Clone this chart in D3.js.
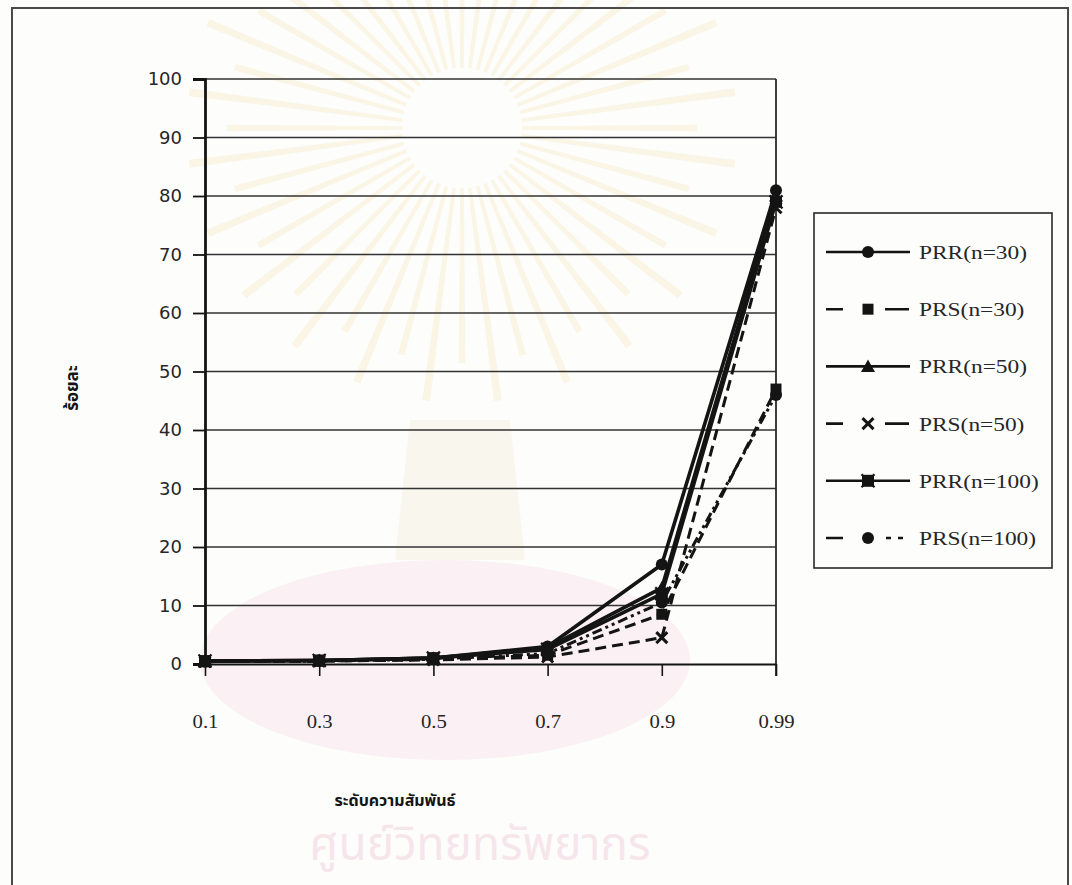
<!DOCTYPE html>
<html>
<head>
<meta charset="utf-8">
<script src="https://cdn.jsdelivr.net/npm/d3@7"></script>
<style>
  html, body { margin: 0; padding: 0; background: #fdfdfc; }
  svg { display: block; }
</style>
</head>
<body>
<svg id="chart" width="1072" height="885"></svg>
<script>
// Correlation levels on the x axis
const categories = ["0.1", "0.3", "0.5", "0.7", "0.9", "0.99"];
const yTicks = [0, 10, 20, 30, 40, 50, 60, 70, 80, 90, 100];

// Percentages per method and sample size
const prr30  = [0.5, 0.6, 1.0, 3.0, 17.0, 81.0];
const prs30  = [0.4, 0.5, 0.8, 1.5, 8.5, 47.0];
const prr50  = [0.5, 0.6, 1.0, 2.8, 13.0, 80.0];
const prs50  = [0.4, 0.5, 0.7, 1.2, 4.5, 78.0];
const prr100 = [0.5, 0.6, 1.0, 2.5, 12.0, 79.0];
const prs100 = [0.4, 0.5, 0.8, 1.8, 10.5, 46.0];

const seriesNames = ["PRR(n=30)", "PRS(n=30)", "PRR(n=50)", "PRS(n=50)", "PRR(n=100)", "PRS(n=100)"];
const seriesValues = [prr30, prs30, prr50, prs50, prr100, prs100];

const yTitle = "ร้อยละ";
const xTitle = "ระดับความสัมพันธ์";
const mark = "ศูนย์วิทยทรัพยากร";

const styles = [
  { dash: null,              legendDash: null,          symbol: "circle" },
  { dash: "11,6",            legendDash: "17,42,24",    symbol: "square" },
  { dash: null,              legendDash: null,          symbol: "triangle" },
  { dash: "11,6",            legendDash: "17,42,24",    symbol: "cross" },
  { dash: null,              legendDash: null,          symbol: "starsq" },
  { dash: "10,4,3,4,3,4",    legendDash: "17,43,5,7,5", symbol: "circle" }
];

const svg = d3.select("#chart");
const ink = "#141414";
const thaiFont = "'Noto Sans Thai', 'Noto Serif Thai', Loma, Garuda, 'DejaVu Sans', sans-serif";
const serif = "'Liberation Serif', 'Times New Roman', serif";

// ---- faint background seal ----
const wm = svg.append("g").attr("class", "watermark");
const cx = 462, cy = 128;
d3.range(0, 360, 7.5).forEach(a => {
  const r = a * Math.PI / 180;
  const r0 = 60, r1 = 235 + (Math.round(a / 7.5) % 2) * 40;
  wm.append("path")
    .attr("d", `M${cx + r0 * Math.cos(r - 0.03)},${cy + r0 * Math.sin(r - 0.03)}
                L${cx + r1 * Math.cos(r - 0.014)},${cy + r1 * Math.sin(r - 0.014)}
                L${cx + r1 * Math.cos(r + 0.014)},${cy + r1 * Math.sin(r + 0.014)}
                L${cx + r0 * Math.cos(r + 0.03)},${cy + r0 * Math.sin(r + 0.03)}Z`)
    .attr("fill", "#f8f1da").attr("opacity", 0.7);
});
wm.append("circle").attr("cx", cx).attr("cy", cy).attr("r", 60).attr("fill", "#fdfdfc");
wm.append("path")
  .attr("d", "M410,420 L510,420 L525,560 L395,560 Z")
  .attr("fill", "#f7f2e4").attr("opacity", 0.6);
wm.append("ellipse").attr("cx", 445).attr("cy", 660).attr("rx", 245).attr("ry", 100)
  .attr("fill", "#fbf0f3");
wm.append("text")
  .attr("x", 480).attr("y", 860)
  .attr("text-anchor", "middle")
  .attr("font-family", thaiFont)
  .attr("font-size", 46)
  .attr("fill", "#f6e6ec")
  .text(mark);

// ---- outer frame ----
svg.append("rect")
  .attr("x", 12).attr("y", 8).attr("width", 1056).attr("height", 900)
  .attr("fill", "none").attr("stroke", "#4a4a4a").attr("stroke-width", 2);

// ---- scales ----
const plotLeft = 205, plotRight = 776, plotTop = 79, plotBottom = 664;
const x = d3.scalePoint().domain(categories).range([plotLeft, plotRight]);
const y = d3.scaleLinear().domain([0, 100]).range([plotBottom, plotTop]);

// grid lines
svg.append("g")
  .selectAll("line").data(yTicks.filter(d => d > 0)).join("line")
  .attr("x1", plotLeft).attr("x2", plotRight)
  .attr("y1", d => y(d)).attr("y2", d => y(d))
  .attr("stroke", "#333").attr("stroke-width", 1.7);

// right border of plot area
svg.append("line")
  .attr("x1", plotRight).attr("x2", plotRight).attr("y1", plotTop).attr("y2", plotBottom + 12)
  .attr("stroke", "#2a2a2a").attr("stroke-width", 1.8);

// y axis
const yAxis = svg.append("g")
  .attr("transform", `translate(${plotLeft},0)`)
  .call(d3.axisLeft(y).tickValues(yTicks).tickSize(12).tickPadding(11).tickFormat(d3.format("d")));
yAxis.select(".domain").attr("stroke", ink).attr("stroke-width", 2.8);
yAxis.selectAll(".tick line").attr("stroke", ink).attr("stroke-width", 1.8);
yAxis.selectAll("text")
  .attr("font-family", "Verdana, 'DejaVu Sans', sans-serif")
  .attr("font-size", 18).attr("fill", "#262626");

// x axis
const xAxis = svg.append("g")
  .attr("transform", `translate(0,${plotBottom})`)
  .call(d3.axisBottom(x).tickSize(12).tickPadding(46).tickSizeOuter(0));
xAxis.select(".domain").attr("stroke", ink).attr("stroke-width", 2.2);
xAxis.selectAll(".tick line").attr("stroke", ink).attr("stroke-width", 1.6);
xAxis.selectAll("text")
  .attr("font-family", serif)
  .attr("font-size", 18).attr("fill", "#262626")
  .attr("transform", "scale(1.15,1)")
  .attr("dy", "0.35em");

// ---- markers ----
function drawMarker(g, kind, px, py, s) {
  s = s || 1;
  if (kind === "circle") {
    g.append("circle").attr("cx", px).attr("cy", py).attr("r", 6 * s).attr("fill", ink);
  } else if (kind === "square") {
    g.append("rect").attr("x", px - 5.5 * s).attr("y", py - 5.5 * s)
      .attr("width", 11 * s).attr("height", 11 * s).attr("fill", ink);
  } else if (kind === "triangle") {
    g.append("path")
      .attr("d", `M${px},${py - 7 * s} L${px + 7 * s},${py + 5.5 * s} L${px - 7 * s},${py + 5.5 * s}Z`)
      .attr("fill", ink);
  } else if (kind === "cross") {
    const d = 5.5 * s;
    g.append("path")
      .attr("d", `M${px - d},${py - d} L${px + d},${py + d} M${px + d},${py - d} L${px - d},${py + d}`)
      .attr("stroke", ink).attr("stroke-width", 3).attr("fill", "none");
  } else if (kind === "starsq") {
    g.append("rect").attr("x", px - 6 * s).attr("y", py - 6 * s)
      .attr("width", 12 * s).attr("height", 12 * s).attr("fill", ink);
    g.append("path")
      .attr("d", `M${px - 6.5 * s},${py - 6.5 * s} L${px + 6.5 * s},${py + 6.5 * s} M${px + 6.5 * s},${py - 6.5 * s} L${px - 6.5 * s},${py + 6.5 * s}`)
      .attr("stroke", ink).attr("stroke-width", 2.2);
  }
}

// ---- series lines ----
const line = d3.line()
  .x((d, i) => x(categories[i]))
  .y(d => y(d));

const plot = svg.append("g");
seriesValues.forEach((vals, k) => {
  plot.append("path")
    .datum(vals)
    .attr("d", line)
    .attr("fill", "none")
    .attr("stroke", ink)
    .attr("stroke-width", styles[k].dash ? 3 : 3.6)
    .attr("stroke-dasharray", styles[k].dash)
    .attr("stroke-linejoin", "round");
});
seriesValues.forEach((vals, k) => {
  const g = plot.append("g");
  vals.forEach((v, i) => drawMarker(g, styles[k].symbol, x(categories[i]), y(v)));
});

// ---- legend ----
const lg = svg.append("g");
lg.append("rect")
  .attr("x", 814).attr("y", 213).attr("width", 238).attr("height", 355)
  .attr("fill", "#fdfdfc").attr("stroke", "#2a2a2a").attr("stroke-width", 1.6);
const legendY = d3.scalePoint().domain(seriesNames).range([252, 538]);
seriesNames.forEach((name, k) => {
  const ly = legendY(name);
  lg.append("line")
    .attr("x1", 826).attr("x2", 910).attr("y1", ly).attr("y2", ly)
    .attr("stroke", ink).attr("stroke-width", 2.6)
    .attr("stroke-dasharray", styles[k].legendDash);
  drawMarker(lg, styles[k].symbol, 868, ly, 1.0);
  lg.append("text")
    .attr("transform", `translate(919,${ly + 7}) scale(1.2,1)`)
    .attr("font-family", serif)
    .attr("font-size", 19.5).attr("fill", "#262626")
    .text(name);
});

// ---- axis titles ----
svg.append("text")
  .attr("transform", "translate(78,388) rotate(-90)")
  .attr("text-anchor", "middle")
  .attr("font-family", thaiFont)
  .attr("font-weight", "bold")
  .attr("font-size", 17).attr("fill", ink)
  .text(yTitle);

svg.append("text")
  .attr("x", 395).attr("y", 806)
  .attr("text-anchor", "middle")
  .attr("font-family", thaiFont)
  .attr("font-weight", "bold")
  .attr("font-size", 16).attr("fill", ink)
  .text(xTitle);
</script>
</body>
</html>
